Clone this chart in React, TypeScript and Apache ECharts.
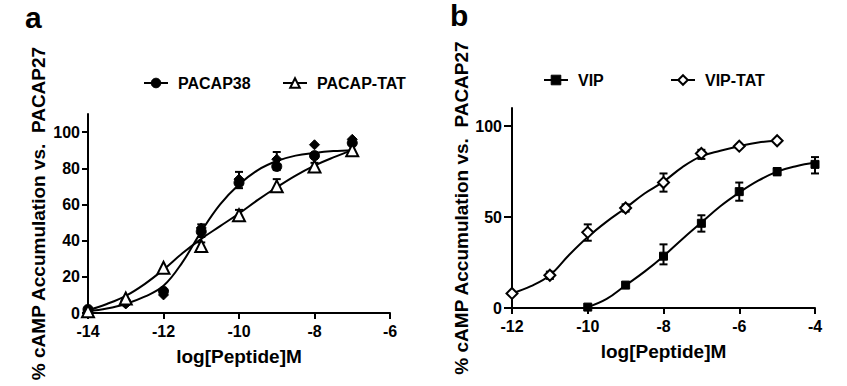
import React, { useEffect, useRef } from 'react';
import * as echarts from 'echarts';

// ---------- Panel a data ----------
const doseA = [-14, -13, -12, -11, -10, -9, -8, -7];
const pacap38 = [2, 6, 12, 45, 72, 81, 87, 94];
const pacap38Replicate = [1, 5, 10, 47, 74, 85, 93, 96];
const pacapTat = [1, 8, 25, 37, 54, 70, 81, 90];
const pacap38Err = [[-11, 42, 49], [-10, 69, 78], [-9, 79, 89]];
const pacapTatErr = [[-11, 35, 39], [-10, 52, 57], [-9, 67, 74], [-8, 79, 83]];
const fitDoseA = [-14, -13.5, -13, -12.5, -12, -11.5, -11, -10.5, -10, -9.5, -9, -8.5, -8, -7.5, -7];
const pacap38Fit = [1, 2.5, 5, 9, 15, 28, 45, 60, 71, 79, 84, 87, 88.5, 89.5, 90];
const pacapTatFit = [1.5, 5, 9.5, 16, 24, 33, 41, 48, 55, 62.5, 69.5, 76, 81.5, 86, 90];

// ---------- Panel b data ----------
const doseVip = [-10, -9, -8, -7, -6, -5, -4];
const vip = [0.5, 12.6, 28.5, 46.6, 64, 75, 79];
const doseVipTat = [-12, -11, -10, -9, -8, -7, -6, -5];
const vipTat = [8, 18, 41.6, 55, 69, 85, 89, 92];
const vipErr = [[-8, 24, 35], [-7, 42, 51], [-6, 59, 69], [-5, 73, 77], [-4, 74, 83]];
const vipTatErr = [[-11, 16, 20], [-10, 37, 46], [-9, 53, 57], [-8, 64, 74], [-7, 82, 87]];
const fitDoseVip = [-10, -9.5, -9, -8.5, -8, -7.5, -7, -6.5, -6, -5.5, -5, -4.5, -4];
const vipFit = [0.5, 5, 12.5, 20, 28.5, 38, 47, 56, 63.5, 70, 75, 78, 80];
const fitDoseVipTat = [-12, -11.5, -11, -10.5, -10, -9.5, -9, -8.5, -8, -7.5, -7, -6.5, -6, -5.5, -5];
const vipTatFit = [8, 12, 18, 29, 39, 47.5, 55, 63, 69.5, 77.5, 83.5, 86.5, 89, 91, 92];

// ---------- Axis ticks ----------
const yTicksA = [0, 20, 40, 60, 80, 100];
const yTicksB = [0, 50, 100];

const FONT = 'Liberation Sans';
const zip = (xs: number[], ys: number[]) => xs.map((x, i) => [x, ys[i]]);

const errorBarSeries = (data: number[][], axis: number) => ({
  type: 'custom',
  xAxisIndex: axis,
  yAxisIndex: axis,
  silent: true,
  z: 2,
  encode: { x: 0, y: [1, 2] },
  data,
  renderItem: (params: any, api: any) => {
    const x = api.value(0);
    const lo = api.coord([x, api.value(1)]);
    const hi = api.coord([x, api.value(2)]);
    const w = 4;
    const style = { stroke: '#000', lineWidth: 2 };
    return {
      type: 'group',
      children: [
        { type: 'line', shape: { x1: lo[0], y1: lo[1], x2: hi[0], y2: hi[1] }, style },
        { type: 'line', shape: { x1: lo[0] - w, y1: lo[1], x2: lo[0] + w, y2: lo[1] }, style },
        { type: 'line', shape: { x1: hi[0] - w, y1: hi[1], x2: hi[0] + w, y2: hi[1] }, style },
      ],
    };
  },
});

const fitSeries = (name: string, data: number[][], axis: number, symbol: string, filled: boolean) => ({
  type: 'line',
  name,
  xAxisIndex: axis,
  yAxisIndex: axis,
  data,
  smooth: 0.4,
  symbol,
  showSymbol: false,
  z: 3,
  lineStyle: { color: '#000', width: 2 },
  itemStyle: filled
    ? { color: '#000', borderColor: '#000', borderWidth: 1 }
    : { color: '#fff', borderColor: '#000', borderWidth: 2 },
});

const pointSeries = (name: string, data: number[][], axis: number, symbol: string, size: number, filled: boolean) => ({
  type: 'scatter',
  name,
  xAxisIndex: axis,
  yAxisIndex: axis,
  data,
  symbol,
  symbolSize: size,
  z: 4,
  itemStyle: filled
    ? { color: '#000', borderColor: '#000', borderWidth: 1, opacity: 1 }
    : { color: '#fff', borderColor: '#000', borderWidth: 2, opacity: 1 },
});

const axisText = { fontFamily: FONT, fontWeight: 'bold', color: '#000' };

const xAxisCfg = (grid: number, min: number, max: number) => ({
  type: 'value',
  gridIndex: grid,
  min,
  max,
  interval: 2,
  name: 'log[Peptide]M',
  nameLocation: 'middle',
  nameGap: 34,
  nameTextStyle: { ...axisText, fontSize: 19 },
  axisLine: { show: true, onZero: false, lineStyle: { color: '#000', width: 2 } },
  axisTick: { show: true, length: 6, lineStyle: { color: '#000', width: 2 } },
  axisLabel: { ...axisText, fontSize: 16, margin: 10 },
  splitLine: { show: false },
});

const yAxisCfg = (grid: number, ticks: number[], tickLen: number, margin: number) => ({
  type: 'value',
  gridIndex: grid,
  min: 0,
  max: 110,
  name: '% cAMP Accumulation vs.  PACAP27',
  nameLocation: 'middle',
  nameGap: 40,
  nameTextStyle: { ...axisText, fontSize: 19 },
  axisLine: { show: true, onZero: false, lineStyle: { color: '#000', width: 2 } },
  axisTick: { show: true, length: tickLen, customValues: ticks, lineStyle: { color: '#000', width: 2 } },
  axisLabel: { ...axisText, fontSize: 16, margin, customValues: ticks },
  splitLine: { show: false },
});

const legendCfg = (name: string, left: number, top: number, filled: boolean) => ({
  left,
  top,
  padding: 0,
  itemWidth: 24,
  itemHeight: 12,
  selectedMode: false,
  data: [
    {
      name,
      itemStyle: filled
        ? { color: '#000', borderColor: '#000', borderWidth: 1 }
        : { color: '#fff', borderColor: '#000', borderWidth: 2 },
    },
  ],
  textStyle: { ...axisText, fontSize: 16, padding: [0, 0, 0, 5] },
});

export default function App() {
  const ref = useRef<HTMLDivElement>(null);
  useEffect(() => {
    if (!ref.current) return;
    const chart = echarts.init(ref.current, null, { renderer: 'svg' });
    chart.setOption({
      animation: false,
      backgroundColor: '#fff',
      textStyle: { fontFamily: FONT },
      grid: [
        { left: 88, top: 114, width: 302, height: 199 },
        { left: 512, top: 108, width: 303, height: 200 },
      ],
      xAxis: [xAxisCfg(0, -14, -6), xAxisCfg(1, -12, -4)],
      yAxis: [yAxisCfg(0, yTicksA, 6, 8), yAxisCfg(1, yTicksB, 8, 10)],
      legend: [
        legendCfg('PACAP38', 143, 75, true),
        legendCfg('PACAP-TAT', 282, 75, false),
        legendCfg('VIP', 543, 72, true),
        legendCfg('VIP-TAT', 670, 72, false),
      ],
      graphic: [
        { type: 'text', left: 25, top: 2, style: { text: 'a', font: `bold 30px "${FONT}"`, fill: '#000' } },
        { type: 'text', left: 450, top: 0, style: { text: 'b', font: `bold 30px "${FONT}"`, fill: '#000' } },
      ],
      series: [
        errorBarSeries(pacap38Err, 0),
        errorBarSeries(pacapTatErr, 0),
        fitSeries('PACAP38', zip(fitDoseA, pacap38Fit), 0, 'circle', true),
        fitSeries('PACAP-TAT', zip(fitDoseA, pacapTatFit), 0, 'triangle', false),
        pointSeries('PACAP38 replicate', zip(doseA, pacap38Replicate), 0, 'diamond', 10, true),
        pointSeries('PACAP38 mean', zip(doseA, pacap38), 0, 'circle', 10, true),
        pointSeries('PACAP-TAT mean', zip(doseA, pacapTat), 0, 'triangle', 12, false),

        errorBarSeries(vipErr, 1),
        errorBarSeries(vipTatErr, 1),
        fitSeries('VIP', zip(fitDoseVip, vipFit), 1, 'rect', true),
        fitSeries('VIP-TAT', zip(fitDoseVipTat, vipTatFit), 1, 'diamond', false),
        pointSeries('VIP mean', zip(doseVip, vip), 1, 'rect', 8, true),
        pointSeries('VIP-TAT mean', zip(doseVipTat, vipTat), 1, 'diamond', 11, false),
      ],
    });
    return () => chart.dispose();
  }, []);
  return (
    <div
      ref={ref}
      style={{ position: 'absolute', left: 0, top: 0, width: 847, height: 386, background: '#fff' }}
    />
  );
}
